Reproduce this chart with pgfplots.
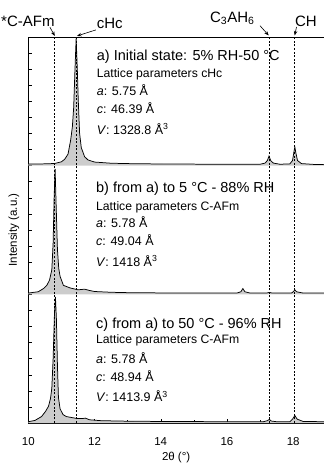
\documentclass[border=0pt]{standalone}
\usepackage{fontspec}
\setmainfont{Liberation Sans}
\usepackage{pgfplots}
\pgfplotsset{compat=1.18}
\usetikzlibrary{arrows.meta}
\definecolor{fillgray}{gray}{0.80}
\newcommand\ftitle{\fontsize{14.5bp}{17bp}\selectfont}
\newcommand\fsmall{\fontsize{12.2bp}{14bp}\selectfont}
\newcommand\fval{\fontsize{12.5bp}{15bp}\selectfont}
\newcommand\ftop{\fontsize{15bp}{17bp}\selectfont}
\newcommand\flab{\fontsize{11.5bp}{13bp}\selectfont}

\pgfplotstableread{
x y
10 2.013
10.5 2.014
10.8 2.017
11.0 2.03
11.1 2.05
11.2 2.09
11.28 2.2
11.33 2.3
11.37 2.45
11.41 2.75
11.445 2.99
11.48 2.75
11.51 2.5
11.55 2.25
11.6 2.14
11.7 2.07
11.8 2.045
12.0 2.028
12.5 2.019
13 2.016
14 2.013
16 2.011
17.0 2.011
17.15 2.02
17.22 2.04
17.27 2.075
17.32 2.04
17.4 2.02
17.6 2.011
17.9 2.014
17.98 2.04
18.03 2.12
18.05 2.145
18.08 2.10
18.13 2.04
18.25 2.016
18.6 2.01
18.93 2.008
}\tabA

\pgfplotstableread{
x y
10 1.01
10.3 1.02
10.46 1.045
10.56 1.07
10.64 1.11
10.71 1.19
10.75 1.4
10.78 1.75
10.81 1.975
10.84 1.7
10.88 1.35
10.92 1.2
10.96 1.14
11.06 1.07
11.26 1.05
11.5 1.035
11.7 1.04
11.85 1.03
12.0 1.022
12.5 1.016
13 1.013
14 1.011
16.3 1.01
16.42 1.02
16.48 1.045
16.54 1.02
16.7 1.01
17.2 1.01
17.28 1.015
17.36 1.01
17.95 1.01
18.0 1.02
18.05 1.035
18.1 1.02
18.3 1.01
18.93 1.01
}\tabB

\pgfplotstableread{
x y
10 0.01
10.2 0.02
10.4 0.05
10.52 0.09
10.61 0.13
10.67 0.19
10.71 0.27
10.75 0.5
10.79 0.85
10.82 0.98
10.85 0.8
10.88 0.45
10.91 0.2
10.96 0.11
11.05 0.065
11.15 0.05
11.47 0.035
11.65 0.035
11.72 0.038
11.85 0.025
12.2 0.018
13 0.014
14 0.012
16 0.01
17.1 0.01
17.22 0.018
17.28 0.028
17.34 0.015
17.5 0.01
17.9 0.01
17.98 0.03
18.05 0.058
18.12 0.03
18.3 0.012
18.93 0.01
}\tabC

\begin{document}
\begin{tikzpicture}
\begin{axis}[
  name=ax,
  scale only axis,
  width=295.7bp, height=386bp,
  xmin=10, xmax=18.93, ymin=0, ymax=3,
  clip=false,
  axis x line*=box, axis y line*=left,
  axis line style={line width=0.7pt},
  xtick={10,12,14,16,18}, minor xtick={11,13,15,17},
  ytick={0,0.125,...,3}, yticklabels={},
  xtick pos=bottom, ytick pos=left,
  tick align=inside,
  major tick length=4bp, minor tick length=3bp,
  tick style={black, line width=0.5pt},
  /pgf/number format/assume math mode=true,
  tick label style={font=\flab},
  xticklabel style={yshift=-11bp},
  xlabel={2θ (°)},
  ylabel={Intensity (a.u.)},
  every axis x label/.style={at={(axis description cs:0.5,0)}, anchor=center, yshift=-35bp, font=\flab},
  every axis y label/.style={at={(axis description cs:0,0.5)}, xshift=-14.5bp, anchor=center, rotate=90, font=\flab},
]
% fills
\addplot[fill=fillgray, draw=none] table {\tabA} -- (axis cs:18.93,2) -- (axis cs:10,2) -- cycle;
\addplot[fill=fillgray, draw=none] table {\tabB} -- (axis cs:18.93,1) -- (axis cs:10,1) -- cycle;
\addplot[fill=fillgray, draw=none] table {\tabC} -- (axis cs:18.93,0) -- (axis cs:10,0) -- cycle;
% reference lines
\addplot[black, line width=0.6pt, dash pattern=on 2pt off 1.6pt] coordinates {(10.80,0) (10.80,3)};
\addplot[black, line width=0.6pt, dash pattern=on 2pt off 1.6pt] coordinates {(11.46,0) (11.46,3)};
\addplot[black, line width=0.6pt, dash pattern=on 2pt off 1.6pt] coordinates {(17.27,0) (17.27,3)};
\addplot[black, line width=0.6pt, dash pattern=on 2pt off 1.6pt] coordinates {(18.04,0) (18.04,3)};
% curves
\addplot[black, line width=0.75pt] table {\tabA};
\addplot[black, line width=0.75pt] table {\tabB};
\addplot[black, line width=0.75pt] table {\tabC};

% panel a
\node[anchor=base west, inner sep=0, font=\ftitle] at (axis cs:12.065,2.821) {a) Initial state: 5\% RH-50 °C};
\node[anchor=base west, inner sep=0, font=\fsmall] at (axis cs:12.065,2.684) {Lattice parameters cHc};
\node[anchor=base west, inner sep=0, font=\fval] at (axis cs:12.065,2.549) {\textit{a}: 5.75 Å};
\node[anchor=base west, inner sep=0, font=\fval] at (axis cs:12.065,2.402) {\textit{c}: 46.39 Å};
\node[anchor=base west, inner sep=0, font=\fval] at (axis cs:12.065,2.246) {\textit{V}: 1328.8 Å\textsuperscript{3}};
% panel b
\node[anchor=base west, inner sep=0, font=\ftitle] at (axis cs:12.044,1.795) {b) from a) to 5 °C - 88\% RH};
\node[anchor=base west, inner sep=0, font=\fsmall] at (axis cs:12.044,1.655) {Lattice parameters C-AFm};
\node[anchor=base west, inner sep=0, font=\fval] at (axis cs:12.044,1.518) {\textit{a}: 5.78 Å};
\node[anchor=base west, inner sep=0, font=\fval] at (axis cs:12.044,1.378) {\textit{c}: 49.04 Å};
\node[anchor=base west, inner sep=0, font=\fval] at (axis cs:12.044,1.220) {\textit{V}: 1418 Å\textsuperscript{3}};
% panel c
\node[anchor=base west, inner sep=0, font=\ftitle] at (axis cs:12.044,0.738) {c) from a) to 50 °C - 96\% RH};
\node[anchor=base west, inner sep=0, font=\fsmall] at (axis cs:12.044,0.620) {Lattice parameters C-AFm};
\node[anchor=base west, inner sep=0, font=\fval] at (axis cs:12.044,0.464) {\textit{a}: 5.78 Å};
\node[anchor=base west, inner sep=0, font=\fval] at (axis cs:12.044,0.321) {\textit{c}: 48.94 Å};
\node[anchor=base west, inner sep=0, font=\fval] at (axis cs:12.044,0.166) {\textit{V}: 1413.9 Å\textsuperscript{3}};

% top labels
\node[anchor=base west, inner sep=0, font=\ftop] at (axis cs:9.176,3.082) {*C-AFm};
\node[anchor=base west, inner sep=0, font=\ftop] at (axis cs:12.065,3.068) {cHc};
\node[anchor=base west, inner sep=0, font=\ftop] at (axis cs:15.485,3.115) {C\textsubscript{3}AH\textsubscript{6}};
\node[anchor=base west, inner sep=0, font=\ftop] at (axis cs:18.05,3.082) {CH};
\draw[line width=0.6pt, -{Stealth[length=4.5bp,width=3.5bp]}] (axis cs:10.655,3.075) -- (axis cs:10.80,3.008);
\draw[line width=0.6pt, -{Stealth[length=4.5bp,width=3.5bp]}] (axis cs:12.04,3.055) -- (axis cs:11.47,3.008);
\draw[line width=0.6pt, -{Stealth[length=4.5bp,width=3.5bp]}] (axis cs:16.997,3.088) -- (axis cs:17.26,3.012);
\draw[line width=0.6pt, -{Stealth[length=4.5bp,width=3.5bp]}] (axis cs:18.10,3.078) -- (axis cs:18.045,3.012);
\end{axis}
\pgfresetboundingbox
\path ([xshift=-28.3bp,yshift=-41bp]ax.south west) rectangle ([yshift=37bp]ax.north east);
\end{tikzpicture}
\end{document}
